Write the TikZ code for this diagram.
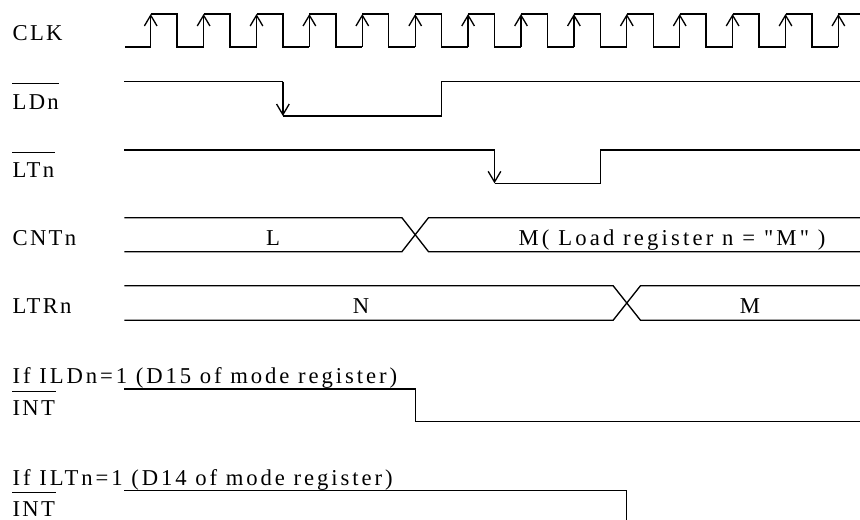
\documentclass[tikz,border=0pt]{standalone}
\usepackage{fontspec}
\newfontfamily\wavefont{Liberation Serif}[LetterSpace=10]
\newfontfamily\notefont{Liberation Serif}[LetterSpace=13]
\newfontfamily\busfont{Liberation Serif}[LetterSpace=14]
\usetikzlibrary{arrows.meta}

\tikzset{every picture/.style={line width=1pt},
  edgearrow/.style={-{Straight Barb[length=8pt,width=9.5pt,line width=1pt]}},
  overbar/.style={line width=0.8pt},
  sig/.style={anchor=base west,inner sep=0pt,font=\fontsize{17}{20}\wavefont},
  note/.style={anchor=base west,inner sep=0pt,font=\fontsize{17}{20}\notefont},
  val/.style={anchor=base,inner sep=0pt,font=\fontsize{17}{20}\wavefont}}

\begin{document}
\begin{tikzpicture}[x=0.75pt,y=0.75pt,yscale=-1,xscale=1]
\useasboundingbox (0,0) rectangle (860,520);
\def\per{52.9}
\def\half{26.45}

%Clock: rising edge k at 150.7 + k*52.9
\draw (125,47) -- (150.7,47) ;
\foreach \k in {0,...,13}{
  \pgfmathsetmacro{\rx}{150.7+\k*\per}
  \pgfmathsetmacro{\fx}{\rx+\half}
  \pgfmathsetmacro{\nx}{\rx+\per}
  \draw [edgearrow] (\rx,47) -- (\rx,14) ;
  \ifnum\k<13
    \draw (\rx,14) -- (\fx,14) -- (\fx,47) -- (\nx,47) ;
  \else
    \draw (\rx,14) -- (860,14) ;
  \fi
}

%LDn
\draw (124.3,81.7) -- (282.9,81.7) ;
\draw [edgearrow] (282.9,81.7) -- (282.9,116) ;
\draw (282.9,116) -- (441.6,116) -- (441.6,81.7) -- (860,81.7) ;
%LTn
\draw (124.3,150) -- (494.5,150) ;
\draw [edgearrow] (494.5,150) -- (494.5,183.3) ;
\draw (494.5,183.3) -- (600.3,183.3) -- (600.3,150) -- (860,150) ;

%CNTn bus
\draw (124.3,217.7) -- (401.9,217.7) -- (428.5,251.7) -- (860,251.7) ;
\draw (124.3,251.7) -- (401.9,251.7) -- (428.5,217.7) -- (860,217.7) ;
%LTRn bus
\draw (124.3,285.7) -- (613.1,285.7) -- (640.5,320.3) -- (860,320.3) ;
\draw (124.3,320.3) -- (613.1,320.3) -- (640.5,285.7) -- (860,285.7) ;

%INT if ILDn=1
\draw (124.3,389) -- (415.2,389) -- (415.2,421.7) -- (860,421.7) ;
%INT if ILTn=1
\draw (124.3,490.7) -- (626.8,490.7) -- (626.8,520) ;

% Text Node
\node [sig] (clk) at (12,41) {CLK};
% Text Node
\node [sig] (ldn) at (12,109.3) {LDn};
\draw [overbar] ([yshift=-7.5pt]ldn.north west) -- ([yshift=-7.5pt]ldn.north east) ;
% Text Node
\node [sig] (ltn) at (12,177.6) {LTn};
\draw [overbar] ([yshift=-7.5pt]ltn.north west) -- ([yshift=-7.5pt]ltn.north east) ;
% Text Node
\node [sig] (cntn) at (12,245.7) {CNTn};
% Text Node
\node [sig] (ltrn) at (12,313.3) {LTRn};
% Text Node
\node [note] (ifild) at (12,383.3) {If ILDn=1 (D15 of mode register)};
% Text Node
\node [sig] (intld) at (12,415) {INT};
\draw [overbar] ([yshift=-5.7pt]intld.north west) -- ([yshift=-5.7pt]intld.north east) ;
% Text Node
\node [note] (iflt) at (12,485) {If ILTn=1 (D14 of mode register)};
% Text Node
\node [sig] (intlt) at (12,516.7) {INT};
\draw [overbar] ([yshift=-6.3pt]intlt.north west) -- ([yshift=-6.3pt]intlt.north east) ;

% Text Node
\node [val] (cntl) at (273,245.7) {L};
% Text Node
\node [val,font=\fontsize{17}{20}\busfont] (cntm) at (672,245.7) {M( Load register n = "M" )};
% Text Node
\node [val] (ltrnn) at (361,313.3) {N};
% Text Node
\node [val] (ltrnm) at (750,313.3) {M};

\end{tikzpicture}
\end{document}
